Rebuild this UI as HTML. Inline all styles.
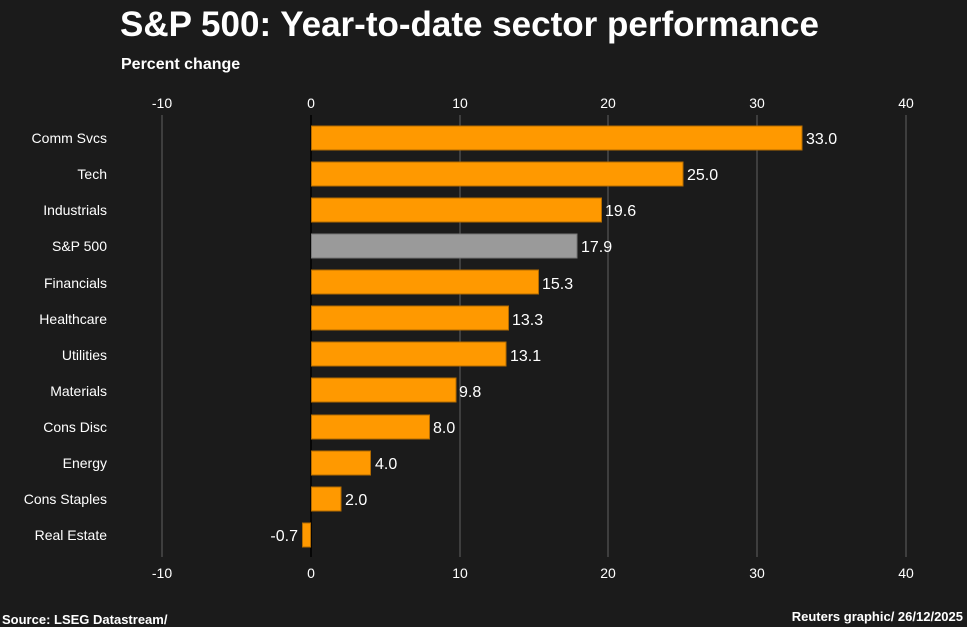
<!DOCTYPE html>
<html><head><meta charset="utf-8"><style>
html,body{margin:0;padding:0;background:#1b1b1b;}
svg{display:block;font-family:"Liberation Sans",sans-serif;}
</style></head><body>
<svg width="967" height="627" viewBox="0 0 967 627">
<rect width="967" height="627" fill="#1b1b1b"/>
<text x="120" y="36" fill="#fff" font-size="35" font-weight="bold">S&amp;P 500: Year-to-date sector performance</text>
<text x="121" y="69" fill="#fff" font-size="16" font-weight="bold">Percent change</text>
<g stroke="#555" stroke-width="1.2">
<line x1="162" y1="115" x2="162" y2="557"/>
<line x1="460" y1="115" x2="460" y2="557"/>
<line x1="608" y1="115" x2="608" y2="557"/>
<line x1="757" y1="115" x2="757" y2="557"/>
<line x1="906" y1="115" x2="906" y2="557"/>
</g>
<line x1="311" y1="115" x2="311" y2="557" stroke="#000" stroke-width="1.5"/>
<g fill="#fff" font-size="14" text-anchor="middle">
<text x="162" y="108">-10</text><text x="311" y="108">0</text><text x="460" y="108">10</text><text x="608" y="108">20</text><text x="757" y="108">30</text><text x="906" y="108">40</text>
<text x="162" y="578">-10</text><text x="311" y="578">0</text><text x="460" y="578">10</text><text x="608" y="578">20</text><text x="757" y="578">30</text><text x="906" y="578">40</text>
</g>
<g font-size="14" fill="#fff" text-anchor="end">
<text x="107" y="143">Comm Svcs</text>
<text x="107" y="179">Tech</text>
<text x="107" y="215">Industrials</text>
<text x="107" y="251">S&amp;P 500</text>
<text x="107" y="288">Financials</text>
<text x="107" y="324">Healthcare</text>
<text x="107" y="360">Utilities</text>
<text x="107" y="396">Materials</text>
<text x="107" y="432">Cons Disc</text>
<text x="107" y="468">Energy</text>
<text x="107" y="504">Cons Staples</text>
<text x="107" y="540">Real Estate</text>
</g>
<g stroke="#b36b00" stroke-width="1">
<rect x="311.5" y="126" width="490.5" height="24" fill="#ff9900"/>
<rect x="311.5" y="162" width="371.5" height="24" fill="#ff9900"/>
<rect x="311.5" y="198" width="290" height="24" fill="#ff9900"/>
<rect x="311.5" y="234" width="265.5" height="24" fill="#9a9a9a" stroke="#777"/>
<rect x="311.5" y="270" width="227" height="24" fill="#ff9900"/>
<rect x="311.5" y="306" width="197" height="24" fill="#ff9900"/>
<rect x="311.5" y="342" width="194.5" height="24" fill="#ff9900"/>
<rect x="311.5" y="378" width="144.5" height="24" fill="#ff9900"/>
<rect x="311.5" y="415" width="118" height="24" fill="#ff9900"/>
<rect x="311.5" y="451" width="59" height="24" fill="#ff9900"/>
<rect x="311.5" y="487" width="29.5" height="24" fill="#ff9900"/>
<rect x="302.5" y="523" width="8" height="24" fill="#ff9900"/>
</g>
<g font-size="16" fill="#fff">
<text x="806" y="144">33.0</text>
<text x="687" y="180">25.0</text>
<text x="605" y="216">19.6</text>
<text x="581" y="252">17.9</text>
<text x="542" y="289">15.3</text>
<text x="512" y="325">13.3</text>
<text x="510" y="361">13.1</text>
<text x="459" y="397">9.8</text>
<text x="433" y="433">8.0</text>
<text x="375" y="469">4.0</text>
<text x="345" y="505">2.0</text>
<text x="298" y="541" text-anchor="end">-0.7</text>
</g>
<text x="2" y="624" fill="#fff" font-size="13" font-weight="bold">Source: LSEG Datastream/</text>
<text x="963" y="621" fill="#fff" font-size="13" font-weight="bold" text-anchor="end">Reuters graphic/ 26/12/2025</text>
</svg>
</body></html>
